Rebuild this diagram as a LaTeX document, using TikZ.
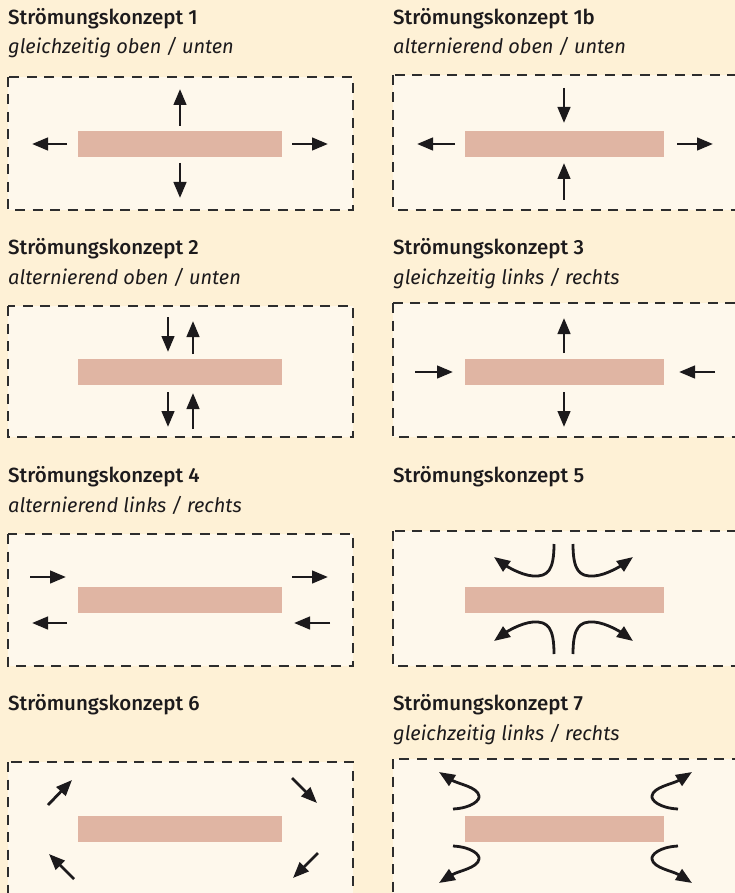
\documentclass[tikz,border=0pt]{standalone}
\usepackage{fontspec}
\setmainfont{Fira Sans}[BoldFont={Fira Sans Medium}]
\usetikzlibrary{arrows.meta}
\definecolor{bg}{RGB}{254,241,214}
\definecolor{panel}{RGB}{254,248,236}
\definecolor{platec}{RGB}{224,181,163}
\definecolor{ink}{RGB}{28,26,28}
\definecolor{dashc}{RGB}{45,45,45}
\begin{document}
\begin{tikzpicture}[x=1pt,y=-1pt,
  flow/.style={draw=ink, line width=2.8pt, -{Triangle[length=16pt,width=12.5pt]}},
  frame/.style={draw=dashc, line width=1.5pt, dash pattern=on 10pt off 7.5pt, fill=panel},
  plate/.style={fill=platec},
  title/.style={anchor=base west, inner sep=0pt, font=\fontsize{20.5}{24}\selectfont\bfseries, text=ink},
  sub/.style={anchor=base west, inner sep=0pt, font=\fontsize{20}{24}\selectfont\itshape, text=ink}]
\useasboundingbox (0,0) rectangle (735,893);
\clip (0,0) rectangle (735,893);
\fill[bg] (0,0) rectangle (735,893);

% frames
\path[frame] (8,77) rectangle (353,210);
\path[frame] (8,306) rectangle (353,437);
\path[frame] (8,534) rectangle (353,666);
\path[frame] (8,762) rectangle (353,905);
\path[frame] (393,75) rectangle (745,210);
\path[frame] (393,303) rectangle (745,437);
\path[frame] (393,531) rectangle (745,666);
\path[frame] (393,759) rectangle (745,905);

% plates
\foreach \y in {131,359,587,816} {
  \fill[plate] (78,\y) rectangle (282,\y+26);
  \fill[plate] (465,\y) rectangle (664,\y+26);
}

% titles
\node[title] (t1) at (8,25) {Strömungskonzept 1};
\node[sub] (s1) at (8,54) {gleichzeitig oben / unten};
\node[title] (t1b) at (393,25) {Strömungskonzept 1b};
\node[sub] (s1b) at (393,54) {alternierend oben / unten};
\node[title] (t2) at (8,254) {Strömungskonzept 2};
\node[sub] (s2) at (8,284) {alternierend oben / unten};
\node[title] (t3) at (393,254) {Strömungskonzept 3};
\node[sub] (s3) at (393,284) {gleichzeitig links / rechts};
\node[title] (t4) at (8,482) {Strömungskonzept 4};
\node[sub] (s4) at (8,512) {alternierend links / rechts};
\node[title] (t5) at (393,482) {Strömungskonzept 5};
\node[title] (t6) at (8,710) {Strömungskonzept 6};
\node[title] (t7) at (393,710) {Strömungskonzept 7};
\node[sub] (s7) at (393,740) {gleichzeitig links / rechts};

% panel 1
\draw[flow] (180,126) -- (180,89);
\draw[flow] (180,163) -- (180,198);
\draw[flow] (67,144) -- (32,144);
\draw[flow] (292,144) -- (328,144);

% panel 1b
\draw[flow] (564,88) -- (564,123);
\draw[flow] (564,200) -- (564,163);
\draw[flow] (455,144) -- (417,144);
\draw[flow] (677,144) -- (713,144);

% panel 2
\draw[flow] (168,317) -- (168,352);
\draw[flow] (193,354) -- (193,321);
\draw[flow] (168,392) -- (168,427);
\draw[flow] (193,429) -- (193,393);

% panel 3
\draw[flow] (564,353) -- (564,318);
\draw[flow] (564,392) -- (564,427);
\draw[flow] (415,372) -- (453,372);
\draw[flow] (715,372) -- (679,372);

% panel 4
\draw[flow] (30,577) -- (66,577);
\draw[flow] (292,577) -- (328,577);
\draw[flow] (67,623) -- (32,623);
\draw[flow] (330,623) -- (294,623);

% panel 5
\draw[flow] (554,544) .. controls (554,570) and (548,577) .. (533,576) .. controls (520,575) and (505,565) .. (494,557);
\draw[flow] (573,544) .. controls (573,570) and (579,577) .. (594,576) .. controls (607,575) and (622,565) .. (633,557);
\draw[flow] (554,654) .. controls (554,628) and (548,621) .. (533,622) .. controls (520,623) and (505,633) .. (494,641);
\draw[flow] (573,654) .. controls (573,628) and (579,621) .. (594,622) .. controls (607,623) and (622,633) .. (633,641);

% panel 6
\draw[flow] (48,805) -- (72,780);
\draw[flow] (292,778) -- (317,803);
\draw[flow] (74,879) -- (49,854);
\draw[flow] (318,853) -- (293,878);

% panel 7
\draw[flow] (453,809) .. controls (472,808) and (480,800) .. (479,796) .. controls (478,787) and (458,784) .. (439,772);
\draw[flow] (678,809) .. controls (659,808) and (651,800) .. (652,796) .. controls (653,787) and (673,784) .. (692,772);
\draw[flow] (453,846) .. controls (472,847) and (480,855) .. (479,859) .. controls (478,868) and (458,871) .. (439,883);
\draw[flow] (678,846) .. controls (659,847) and (651,855) .. (652,859) .. controls (653,868) and (673,871) .. (692,883);
\end{tikzpicture}
\end{document}
